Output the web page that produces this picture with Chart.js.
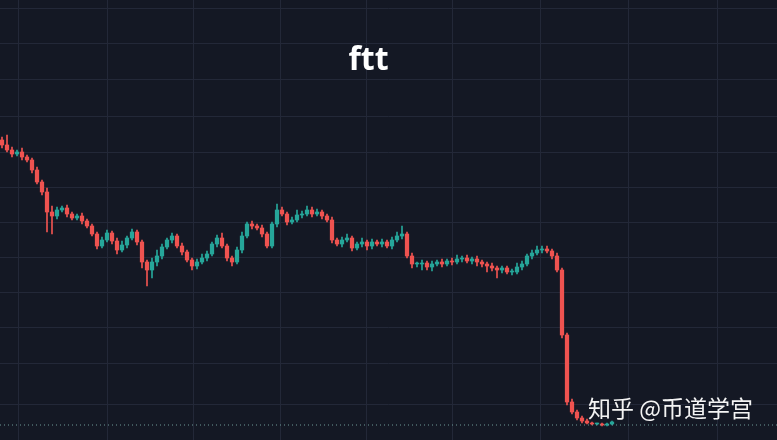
<!DOCTYPE html>
<html><head><meta charset="utf-8">
<script src="https://cdn.jsdelivr.net/npm/chart.js@4"></script>
<style>
html,body{margin:0;padding:0;background:#141824;}
#wrap{position:relative;width:777px;height:440px;}
#title{position:absolute;left:0;width:737px;top:36px;text-align:center;color:#fff;font:bold 32px "Noto Sans","DejaVu Sans",sans-serif;}
#wm{position:absolute;left:588px;top:390px;color:#f4f4f4;font:23px "Noto Sans CJK SC",sans-serif;}
</style></head><body>
<div id="wrap"><canvas id="c" width="777" height="440"></canvas>
<div id="title">ftt</div><div id="wm">知乎 @币道学宫</div></div>
<script>
const closes=[295,290,286,288,283,280,270,258,248,228,224,230,232,226,222,224,219,214,206,194,200,207,199,190,195,202,208,198,178,170,178,184,193,200,204,194,188,180,174,178,182,186,196,202,194,182,178,190,204,216,214,212,206,194,216,230,226,218,220,225,226,230,226,228,224,220,200,196,200,202,192,196,198,194,198,196,198,194,200,204,206,184,176,176,177,173,176,178,176,179,178,181,182,179,181,178,176,174,172,170,172,168,168,173,176,184,187,190,191,189,184,170,105,38,28,22,19,17,16,16,15,16,18];
const firstOpen=300;
const hiExt=[3,10,3,2,4,2,2,3,2,4,6,3,2,3,2,2,3,2,2,2,3,3,2,3,4,2,3,2,2,2,4,6,3,2,3,2,3,2,2,3,4,3,2,3,5,2,2,3,4,2,3,2,3,2,2,6,3,2,3,5,3,4,3,3,2,2,3,2,3,4,2,2,4,2,3,2,3,2,3,4,8,2,3,2,3,2,3,2,3,2,3,4,2,3,2,3,2,2,3,2,2,2,3,4,3,2,3,4,3,3,2,3,2,2,3,2,2,2,1,1,1,1,1];
const loExt=[3,2,3,2,3,2,3,2,3,20,18,3,2,3,2,2,3,2,2,3,2,2,3,4,2,3,2,3,6,16,8,4,3,2,3,2,3,2,4,3,2,3,2,3,2,3,4,2,3,2,3,2,3,2,2,3,2,3,2,2,3,2,3,2,3,2,3,2,3,2,3,2,3,4,3,2,3,2,3,2,3,2,4,3,6,3,4,2,3,2,3,2,3,2,3,4,3,6,3,8,3,2,3,2,3,2,3,2,3,2,3,2,3,3,2,2,2,1,1,1,1,1,1];
const lastPrice=15;
const gridX=[18,107,193,280,366,452,540,628,717];
const gridY=[36,77,113,148,183,218,253,288,324,360,396,432];
const step=5;
const opens=closes.map((c,i)=>i?closes[i-1]:firstOpen);
const up=(i)=>closes[i]>=opens[i];
const body=closes.map((c,i)=>({x:i*step+2,y:[opens[i],c]}));
const wick=closes.map((c,i)=>({x:i*step+2,y:[Math.min(opens[i],c)-loExt[i],Math.max(opens[i],c)+hiExt[i]]}));
const col=(ctx)=>up(ctx.dataIndex)?'#26a69a':'#ef5350';
new Chart(document.getElementById('c'),{
 data:{datasets:[
  {type:'bar',data:wick,backgroundColor:col,barThickness:1,grouped:false,order:2},
  {type:'bar',data:body,backgroundColor:col,barThickness:3.6,grouped:false,minBarLength:1,order:1},
  {type:'line',data:[{x:0,y:lastPrice},{x:777,y:lastPrice}],borderColor:'#6f9a98',borderWidth:1,borderDash:[1,3],pointRadius:0,order:0}
 ]},
 options:{responsive:false,animation:false,layout:{padding:0},
  plugins:{legend:{display:false},tooltip:{enabled:false}},
  scales:{
   x:{type:'linear',offset:false,min:0,max:777,afterBuildTicks:a=>{a.ticks=gridX.map(v=>({value:v}))},afterFit:a=>{a.height=0},
      ticks:{display:false},grid:{color:'#232838',drawTicks:false,offset:false},border:{display:false}},
   y:{min:0,max:440,afterBuildTicks:a=>{a.ticks=gridY.map(v=>({value:v}))},afterFit:a=>{a.width=0},
      ticks:{display:false},grid:{color:'#232838',drawTicks:false},border:{display:false}}
  }}
});
</script></body></html>
